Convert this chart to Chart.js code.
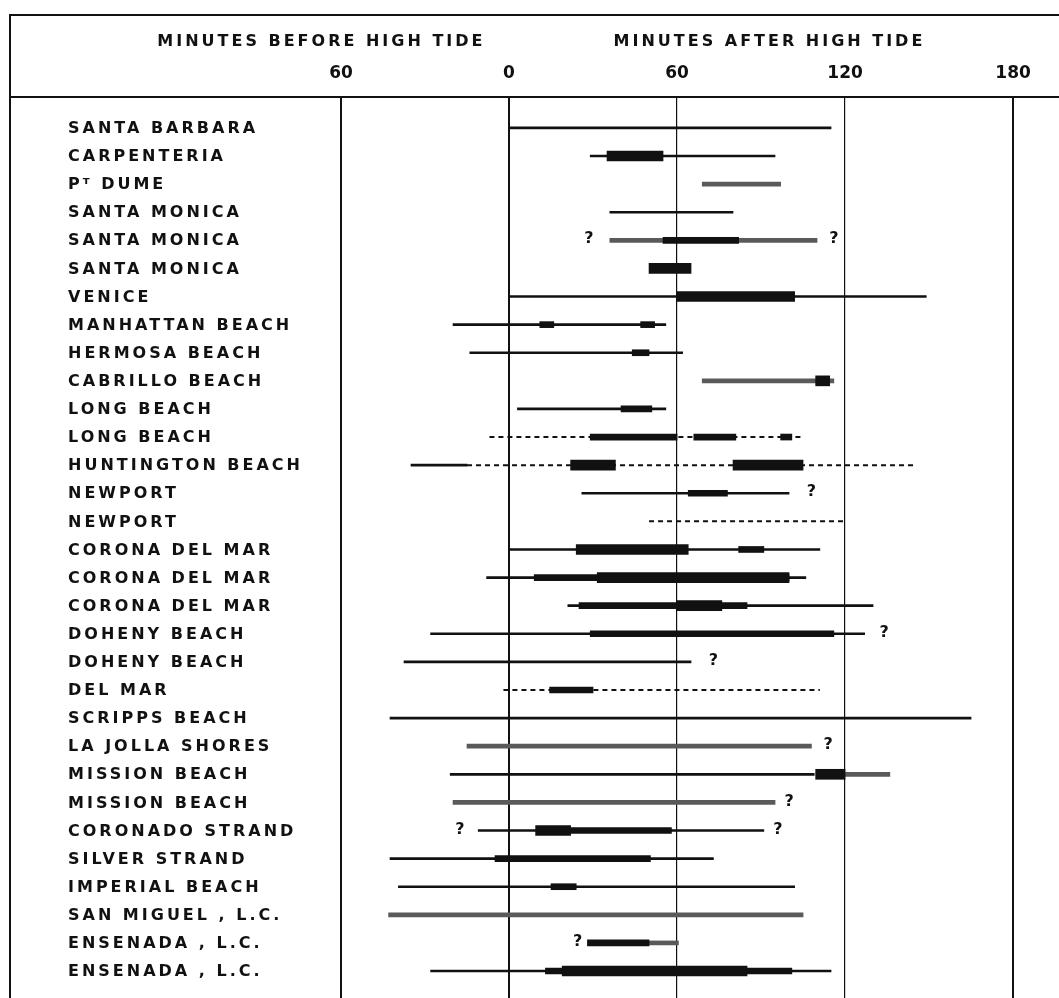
<!DOCTYPE html>
<html>
<head>
<meta charset="utf-8">
<script src="https://cdn.jsdelivr.net/npm/chart.js@4.4.1/dist/chart.umd.min.js"></script>
<style>
  body { margin: 0; background: #fff; }
  #wrap { width: 1059px; height: 998px; position: relative; }
</style>
</head>
<body>
<div id="wrap"><canvas id="runsChart"></canvas></div>
<script>
// Stations, top to bottom
const stations = [
  "SANTA BARBARA", "CARPENTERIA", "Pᵀ DUME", "SANTA MONICA", "SANTA MONICA",
  "SANTA MONICA", "VENICE", "MANHATTAN BEACH", "HERMOSA BEACH", "CABRILLO BEACH",
  "LONG BEACH", "LONG BEACH", "HUNTINGTON BEACH", "NEWPORT", "NEWPORT",
  "CORONA DEL MAR", "CORONA DEL MAR", "CORONA DEL MAR", "DOHENY BEACH", "DOHENY BEACH",
  "DEL MAR", "SCRIPPS BEACH", "LA JOLLA SHORES", "MISSION BEACH", "MISSION BEACH",
  "CORONADO STRAND", "SILVER STRAND", "IMPERIAL BEACH", "SAN MIGUEL , L.C.", "ENSENADA , L.C.",
  "ENSENADA , L.C."
];

// minutes relative to high tide: [row, from, to]
const thickSpans = [
  [1, 35, 55], [5, 50, 65], [6, 60, 102], [9, 109.5, 114.5], [12, 22, 38], [12, 80, 105],
  [15, 24, 64], [16, 31.5, 100], [17, 60, 76], [23, 109.5, 120], [25, 9.5, 22], [30, 19, 85]
];
const midSpans = [
  [4, 55, 82], [7, 11, 16], [7, 47, 52], [8, 44, 50], [10, 40, 51], [11, 29, 60],
  [11, 66, 81], [11, 97, 101], [13, 64, 78], [15, 82, 91], [16, 9, 100], [17, 25, 85],
  [18, 29, 116], [20, 14.5, 30], [25, 22, 58], [26, -5, 50.5], [27, 15, 24], [29, 28, 50],
  [30, 13, 101]
];
const graySpans = [
  [2, 69, 97], [4, 36, 110], [9, 69, 116], [22, -15, 108], [23, 120, 136],
  [24, -20, 95], [28, -43, 105], [29, 50, 60.5]
];
const thinSpans = [
  [0, 0, 115], [1, 29, 95], [3, 36, 80], [6, 0, 149], [7, -20, 56], [8, -14, 62],
  [10, 3, 56], [12, -35, -15], [13, 26, 100], [15, 0, 111], [16, -8, 106], [17, 21, 130],
  [18, -28, 127], [19, -37.5, 65], [21, -42.5, 165], [23, -21, 109], [25, -11, 91],
  [26, -42.5, 73], [27, -39.5, 102], [30, -28, 115]
];
const dashedSpans = [[11, -7, 105], [12, -15, 145], [14, 50, 120], [20, -2, 111]];

// question marks: [row, minutes]
const queryMarks = [
  [4, 28.5], [4, 116], [13, 108], [18, 134], [19, 73], [22, 114], [24, 100],
  [25, -17.5], [25, 96], [29, 24.5]
];

const tickValues = [-60, 0, 60, 120, 180];

const toBars = spans => spans.map(s => ({ y: s[0], x: [s[1], s[2]] }));

function barSet(label, spans, thick, color) {
  return {
    type: "bar",
    label: label,
    data: toBars(spans),
    backgroundColor: color,
    borderWidth: 0,
    barThickness: thick,
    grouped: false
  };
}

// dashed spans as separate line pieces
const dashedSets = dashedSpans.map(s => ({
  type: "line",
  label: "dashed",
  data: [{ x: s[1], y: s[0] }, { x: s[2], y: s[0] }],
  borderColor: "#111",
  borderWidth: 2,
  borderDash: [5, 4],
  pointRadius: 0,
  fill: false
}));

const FONT = '"DejaVu Sans", sans-serif';

const extrasPlugin = {
  id: "extras",
  afterDraw(chart) {
    const ctx = chart.ctx;
    const x = chart.scales.x;
    const y = chart.scales.y;
    ctx.save();
    // frame
    ctx.strokeStyle = "#111";
    ctx.lineWidth = 2;
    ctx.beginPath();
    ctx.moveTo(10, 998); ctx.lineTo(10, 15); ctx.lineTo(1059, 15);
    ctx.moveTo(10, chart.chartArea.top); ctx.lineTo(1059, chart.chartArea.top);
    ctx.stroke();

    // header titles
    ctx.fillStyle = "#111";
    ctx.font = "bold 16px " + FONT;
    ctx.letterSpacing = "3px";
    ctx.textAlign = "center";
    ctx.textBaseline = "middle";
    ctx.fillText("MINUTES BEFORE HIGH TIDE", x.getPixelForValue(-67), 42);
    ctx.fillText("MINUTES AFTER HIGH TIDE", x.getPixelForValue(93), 42);

    // station names
    ctx.textAlign = "left";
    ctx.letterSpacing = "3px";
    stations.forEach((name, i) => {
      ctx.fillText(name, 68, y.getPixelForValue(i) + 1);
    });

    // question marks
    ctx.letterSpacing = "0px";
    ctx.textAlign = "center";
    ctx.font = "bold 16px " + FONT;
    queryMarks.forEach(q => {
      ctx.fillText("?", x.getPixelForValue(q[1]), y.getPixelForValue(q[0]) - 1);
    });
    ctx.restore();
  }
};

const ctx = document.getElementById("runsChart").getContext("2d");

new Chart(ctx, {
  data: {
    datasets: [
      barSet("thick", thickSpans, 10, "#111"),
      barSet("mid", midSpans, 6, "#111"),
      barSet("gray", graySpans, 4, "#5a5a5a"),
      barSet("thin", thinSpans, 2, "#111"),
      ...dashedSets
    ]
  },
  options: {
    indexAxis: "y",
    responsive: true,
    maintainAspectRatio: false,
    animation: false,
    layout: { padding: { left: 10, top: 15, right: 0, bottom: 0 } },
    plugins: {
      legend: { display: false },
      tooltip: { enabled: false }
    },
    scales: {
      x: {
        type: "linear",
        position: "top",
        min: -178.2,
        max: 196.4,
        afterBuildTicks: s => { s.ticks = tickValues.map(v => ({ value: v })); },
        afterFit: s => { s.height = 82; },
        ticks: {
          callback: v => Math.abs(v),
          color: "#111",
          font: { family: FONT, size: 17, weight: "bold" },
          padding: 13,
          maxRotation: 0
        },
        grid: {
          color: "#111",
          lineWidth: c => (c.tick && (c.tick.value === 60 || c.tick.value === 120)) ? 1.2 : 2,
          drawTicks: false
        },
        border: { display: false }
      },
      y: {
        type: "linear",
        display: false,
        reverse: true,
        offset: false,
        min: -1.1,
        max: 30.96
      }
    }
  },
  plugins: [extrasPlugin]
});
</script>
</body>
</html>
